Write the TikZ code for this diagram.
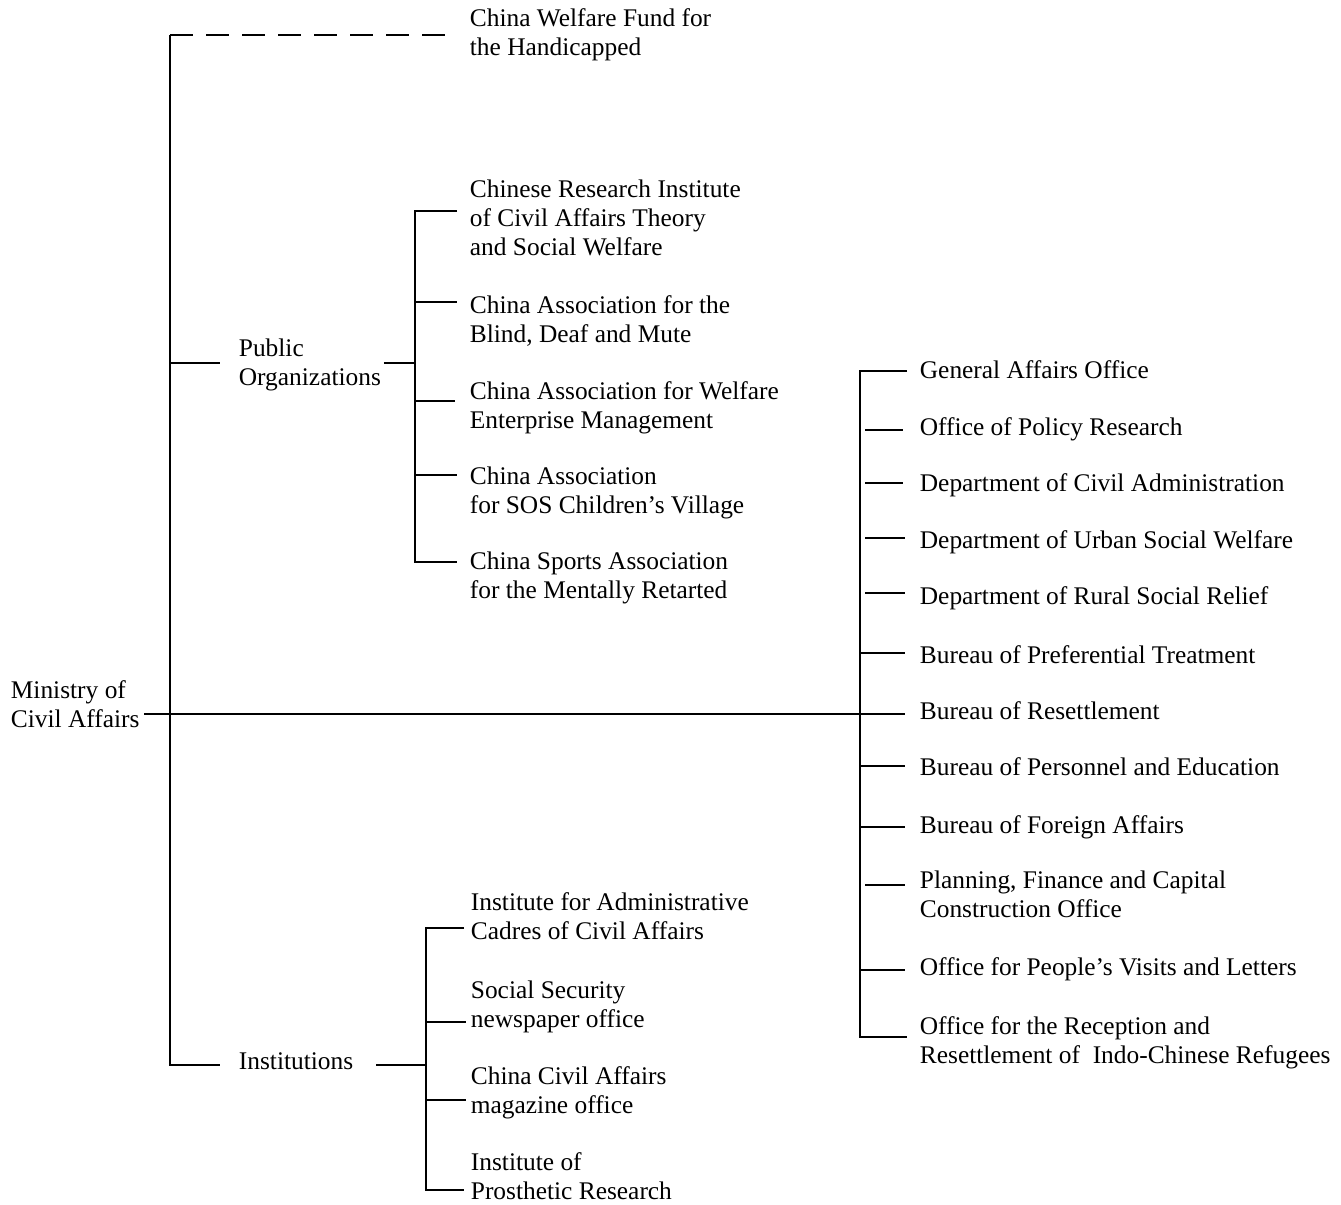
\documentclass[tikz,border=0pt]{standalone}
\usepackage{fontspec}
\setmainfont{Liberation Serif}
\usepackage{tikz}

\begin{document}
\begin{tikzpicture}
            [x=0.5pt,y=-0.5pt,line width=0.9pt,every node/.style={anchor=base west,align=left,inner sep=0pt,font=\fontsize{12.7}{14.5}\selectfont}]
            \useasboundingbox (0,0) rectangle (1341,1205);
            % nodes sit on the baseline of their last line
            \node (M) at (10,727) {Ministry of\\Civil Affairs};
            \node (F) at (469,55) {China Welfare Fund for\\the Handicapped};
            \node (P) at (238,385) {Public\\Organizations};
            \node (I) at (238,1069) {Institutions};
            \node (P1) at (469,255) {Chinese Research Institute\\of Civil Affairs Theory\\and Social Welfare};
            \node (P2) at (469,342) {China Association for the\\Blind, Deaf and Mute};
            \node (P3) at (469,428) {China Association for Welfare\\Enterprise Management};
            \node (P4) at (469,513) {China Association\\for SOS Children's Village};
            \node (P5) at (469,598) {China Sports Association\\for the Mentally Retarted};
            \node (D1) at (919,378) {General Affairs Office};
            \node (D2) at (919,435) {Office of Policy Research};
            \node (D3) at (919,491) {Department of Civil Administration};
            \node (D4) at (919,548) {Department of Urban Social Welfare};
            \node (D5) at (919,604) {Department of Rural Social Relief};
            \node (D6) at (919,663) {Bureau of Preferential Treatment};
            \node (D7) at (919,719) {Bureau of Resettlement};
            \node (D8) at (919,775) {Bureau of Personnel and Education};
            \node (D9) at (919,833) {Bureau of Foreign Affairs};
            \node (D10) at (919,917) {Planning, Finance and Capital\\Construction Office};
            \node (D11) at (919,975) {Office for People's Visits and Letters};
            \node (D12) at (919,1063) {Office for the Reception and\\Resettlement of \ Indo-Chinese Refugees};
            \node (I1) at (470,939) {Institute for Administrative\\Cadres of Civil Affairs};
            \node (I2) at (470,1027) {Social Security\\newspaper office};
            \node (I3) at (470,1113) {China Civil Affairs\\magazine office};
            \node (I4) at (470,1199) {Institute of\\Prosthetic Research};
            
            % branch points
            \coordinate (L0) at (170,35);
            \coordinate (L1) at (170,363);
            \coordinate (L2) at (170,714);
            \coordinate (L3) at (170,1065);
            \coordinate (Q0) at (415,363);
            \coordinate (Q1) at (415,211);
            \coordinate (Q2) at (415,302);
            \coordinate (Q3) at (415,401);
            \coordinate (Q4) at (415,475);
            \coordinate (Q5) at (415,562);
            \coordinate (S0) at (426,1065);
            \coordinate (S1) at (426,928);
            \coordinate (S2) at (426,1022);
            \coordinate (S3) at (426,1100);
            \coordinate (S4) at (426,1190);
            \coordinate (R1) at (860,371);
            \coordinate (R2) at (860,430);
            \coordinate (R3) at (860,483);
            \coordinate (R4) at (860,538);
            \coordinate (R5) at (860,593);
            \coordinate (R6) at (860,653);
            \coordinate (R7) at (860,714);
            \coordinate (R8) at (860,766);
            \coordinate (R9) at (860,827);
            \coordinate (R10) at (860,885);
            \coordinate (R11) at (860,970);
            \coordinate (R12) at (860,1037);
            
            % ministry stem
            \draw[dash pattern=on 11.5pt off 6.5pt,shorten >=9pt] (L0) -- (L0 -| F.west);
            \draw[shorten >=9pt] (L0) -- (L3) -- (L3 -| I.west);
            \draw[shorten >=9pt] (L1) -- (L1 -| P.west);
            \draw[shorten <=2pt] (M.east |- L2) -- (R7);
            % public organizations
            \draw[shorten <=1pt] (P.east |- Q0) -- (Q0);
            \draw[shorten <=6pt,shorten >=6pt] (P1.west |- Q1) -- (Q1) -- (Q5) -- (Q5 -| P5.west);
            \draw[shorten >=6pt] (Q2) -- (Q2 -| P2.west);
            \draw[shorten >=7pt] (Q3) -- (Q3 -| P3.west);
            \draw[shorten >=6pt] (Q4) -- (Q4 -| P4.west);
            % institutions
            \draw[shorten <=11pt] (I.east |- S0) -- (S0);
            \draw[shorten <=3pt,shorten >=3pt] (I1.west |- S1) -- (S1) -- (S4) -- (S4 -| I4.west);
            \draw[shorten >=2pt] (S2) -- (S2 -| I2.west);
            \draw[shorten >=2pt] (S3) -- (S3 -| I3.west);
            % departments
            \draw[shorten <=6pt,shorten >=6pt] (D1.west |- R1) -- (R1) -- (R12) -- (R12 -| D12.west);
            \draw[shorten <=2.5pt,shorten >=8pt] (R2) -- (R2 -| D2.west);
            \draw[shorten <=2.5pt,shorten >=8pt] (R3) -- (R3 -| D3.west);
            \draw[shorten <=2.5pt,shorten >=7pt] (R4) -- (R4 -| D4.west);
            \draw[shorten <=2.5pt,shorten >=7pt] (R5) -- (R5 -| D5.west);
            \draw[shorten >=7pt] (R6) -- (R6 -| D6.west);
            \draw[shorten >=7pt] (R7) -- (R7 -| D7.west);
            \draw[shorten >=7pt] (R8) -- (R8 -| D8.west);
            \draw[shorten >=7pt] (R9) -- (R9 -| D9.west);
            \draw[shorten <=2.5pt,shorten >=7pt] (R10) -- (R10 -| D10.west);
            \draw[shorten >=7pt] (R11) -- (R11 -| D11.west);
\end{tikzpicture}
\end{document}
